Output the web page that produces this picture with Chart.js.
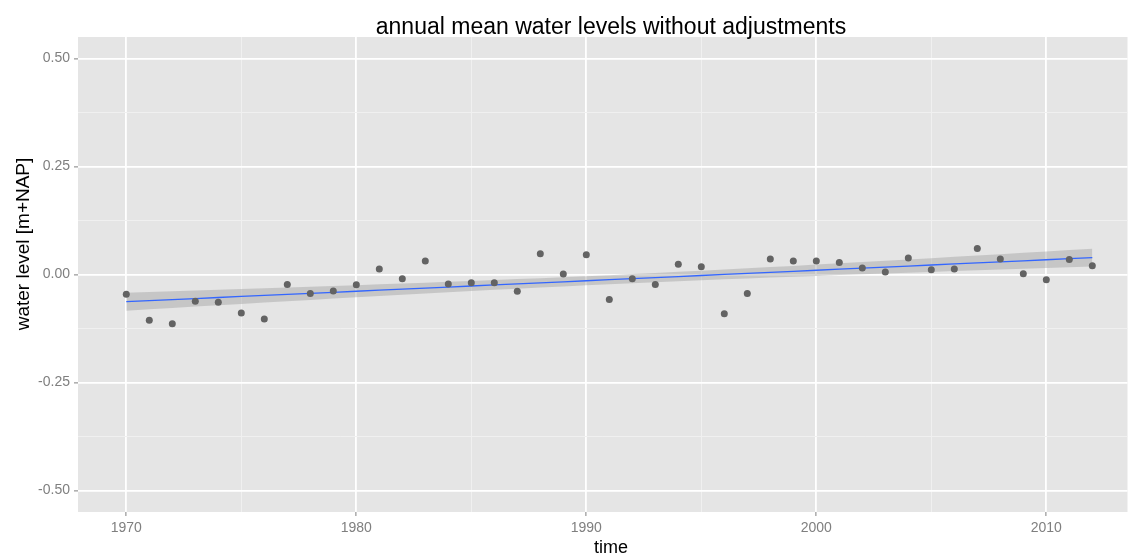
<!DOCTYPE html>
<html>
<head>
<meta charset="utf-8">
<script src="https://cdn.jsdelivr.net/npm/chart.js@4/dist/chart.umd.min.js"></script>
<style>
  html, body { margin: 0; padding: 0; background: #ffffff; overflow: hidden; }
  #wrap { width: 1131px; height: 555px; }
  canvas { display: block; }
</style>
</head>
<body>
<div id="wrap"><canvas id="c" width="1131" height="555"></canvas></div>
<script>
// Annual mean water level per year, metres relative to NAP
const years = [
  1970, 1971, 1972, 1973, 1974, 1975, 1976, 1977, 1978, 1979,
  1980, 1981, 1982, 1983, 1984, 1985, 1986, 1987, 1988, 1989,
  1990, 1991, 1992, 1993, 1994, 1995, 1996, 1997, 1998, 1999,
  2000, 2001, 2002, 2003, 2004, 2005, 2006, 2007, 2008, 2009,
  2010, 2011, 2012
];
const levels = [
  -0.046, -0.106, -0.114, -0.062, -0.064, -0.089, -0.103, -0.023, -0.044, -0.038,
  -0.024,  0.013, -0.010,  0.031, -0.022, -0.019, -0.019, -0.039,  0.048,  0.001,
   0.046, -0.058, -0.010, -0.023,  0.024,  0.018, -0.091, -0.044,  0.036,  0.031,
   0.031,  0.028,  0.015,  0.006,  0.038,  0.011,  0.013,  0.060,  0.036,  0.002,
  -0.012,  0.035,  0.020
];

// Axis ticks: major ones are labelled, minor ones only carry a faint grid line
const xTicks = [1970, 1975, 1980, 1985, 1990, 1995, 2000, 2005, 2010];
const xLabels = ['1970', '', '1980', '', '1990', '', '2000', '', '2010'];
const yTicks = [-0.5, -0.375, -0.25, -0.125, 0, 0.125, 0.25, 0.375, 0.5];
const yLabels = ['-0.50', '', '-0.25', '', '0.00', '', '0.25', '', '0.50'];

const titleText = 'annual mean water levels without adjustments';
const xTitle = 'time';
const yTitle = 'water level [m+NAP]';

// Ordinary least squares fit with 95% confidence band for the mean
function linearFit(xs, ys) {
  const n = xs.length;
  const mx = xs.reduce((a, b) => a + b, 0) / n;
  const my = ys.reduce((a, b) => a + b, 0) / n;
  let sxx = 0, sxy = 0;
  for (let i = 0; i < n; i++) {
    sxx += (xs[i] - mx) * (xs[i] - mx);
    sxy += (xs[i] - mx) * (ys[i] - my);
  }
  const b = sxy / sxx;
  const a = my - b * mx;
  let sse = 0;
  for (let i = 0; i < n; i++) {
    const r = ys[i] - (a + b * xs[i]);
    sse += r * r;
  }
  const s = Math.sqrt(sse / (n - 2));
  const t = 2.0195; // t quantile, 0.975, 41 degrees of freedom
  const fitted = xs.map(x => a + b * x);
  const half = xs.map(x => t * s * Math.sqrt(1 / n + (x - mx) * (x - mx) / sxx));
  return { fitted, half };
}
const fit = linearFit(years, levels);

const pointData = years.map((x, i) => ({ x, y: levels[i] }));
const fitLine = years.map((x, i) => ({ x, y: fit.fitted[i] }));
const bandLow = years.map((x, i) => ({ x, y: fit.fitted[i] - fit.half[i] }));
const bandHigh = years.map((x, i) => ({ x, y: fit.fitted[i] + fit.half[i] }));

const FONT = '"Liberation Sans", Arial, sans-serif';

// Grey panel background and the free-standing titles
const decor = {
  id: 'decor',
  beforeDraw(chart) {
    const { ctx, chartArea: ca } = chart;
    ctx.save();
    ctx.fillStyle = '#ffffff';
    ctx.fillRect(0, 0, chart.width, chart.height);
    ctx.fillStyle = '#e5e5e5';
    ctx.fillRect(ca.left, ca.top, ca.right - ca.left, ca.bottom - ca.top);
    ctx.restore();
  },
  afterDraw(chart) {
    const { ctx } = chart;
    ctx.save();
    ctx.fillStyle = '#000000';
    ctx.textAlign = 'center';
    ctx.textBaseline = 'alphabetic';
    ctx.font = '23px ' + FONT;
    ctx.fillText(titleText, 611, 34);
    ctx.font = '18px ' + FONT;
    ctx.fillText(xTitle, 611, 553);
    ctx.translate(29, 244);
    ctx.rotate(-Math.PI / 2);
    ctx.font = '19px ' + FONT;
    ctx.fillText(yTitle, 0, 0);
    ctx.restore();
  }
};

const majorGrid = ctx => (ctx.tick && ctx.tick.label !== '' ? '#ffffff' : '#f0f0f0');
const gridWidth = ctx => (ctx.tick && ctx.tick.label !== '' ? 1.8 : 1);
const tickMark = ctx => (ctx.tick && ctx.tick.label !== '' ? '#7f7f7f' : 'rgba(0,0,0,0)');

new Chart(document.getElementById('c'), {
  type: 'scatter',
  data: {
    datasets: [
      {
        label: 'annual mean',
        data: pointData,
        pointRadius: 3.5,
        pointHoverRadius: 3.5,
        pointBackgroundColor: '#636363',
        pointBorderWidth: 0,
        showLine: false,
        order: 0
      },
      {
        label: 'linear fit',
        type: 'line',
        data: fitLine,
        borderColor: '#3366ff',
        borderWidth: 1.3,
        pointRadius: 0,
        fill: false,
        order: 1
      },
      {
        label: 'lower bound',
        type: 'line',
        data: bandLow,
        borderWidth: 0,
        borderColor: 'rgba(0,0,0,0)',
        pointRadius: 0,
        fill: false,
        order: 3
      },
      {
        label: 'upper bound',
        type: 'line',
        data: bandHigh,
        borderWidth: 0,
        borderColor: 'rgba(0,0,0,0)',
        backgroundColor: 'rgba(153,153,153,0.4)',
        pointRadius: 0,
        fill: '-1',
        order: 2
      }
    ]
  },
  options: {
    responsive: false,
    animation: false,
    events: [],
    layout: { padding: { left: 0, right: 0, top: 37, bottom: 0 } },
    plugins: { legend: { display: false }, tooltip: { enabled: false }, title: { display: false } },
    scales: {
      x: {
        type: 'linear',
        min: 1967.9,
        max: 2013.53,
        afterBuildTicks: s => { s.ticks = xTicks.map(v => ({ value: v })); },
        afterFit: s => { s.height = 43; s.paddingLeft = 0; s.paddingRight = 0; },
        border: { display: false },
        grid: { color: majorGrid, lineWidth: gridWidth, tickColor: tickMark, tickLength: 4, tickWidth: 1 },
        ticks: {
          color: '#7f7f7f',
          font: { family: FONT, size: 14 },
          padding: 4,
          maxRotation: 0,
          autoSkip: false,
          callback: (v, i) => xLabels[i]
        }
      },
      y: {
        type: 'linear',
        min: -0.55,
        max: 0.55,
        afterBuildTicks: s => { s.ticks = yTicks.map(v => ({ value: v })); },
        afterFit: s => { s.width = 78; s.paddingTop = 0; s.paddingBottom = 0; },
        border: { display: false },
        grid: { color: majorGrid, lineWidth: gridWidth, tickColor: tickMark, tickLength: 4, tickWidth: 1 },
        ticks: {
          color: '#7f7f7f',
          font: { family: FONT, size: 14 },
          padding: 4,
          autoSkip: false,
          callback: (v, i) => yLabels[i]
        }
      }
    }
  },
  plugins: [decor]
});
</script>
</body>
</html>
